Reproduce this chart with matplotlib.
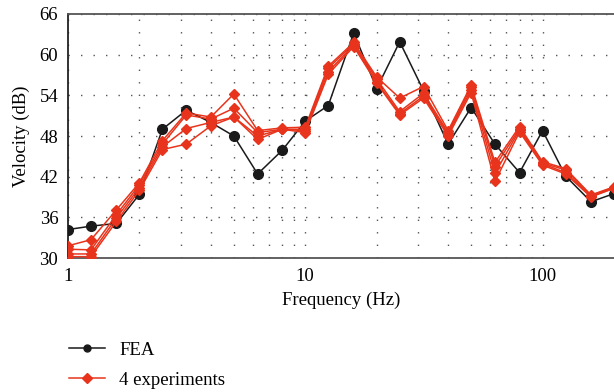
import matplotlib
matplotlib.use("Agg")
import matplotlib.pyplot as plt
from matplotlib.ticker import FixedLocator, NullFormatter, FixedFormatter

freq = [1, 1.25, 1.6, 2, 2.5, 3.15, 4, 5, 6.3, 8, 10, 12.5, 16, 20, 25, 31.5,
        40, 50, 63, 80, 100, 125, 160, 200]

fea = [34.2, 34.7, 35.1, 39.4, 49.0, 51.8, 50.0, 48.0, 42.4, 45.9, 50.2, 52.5,
       63.2, 55.0, 61.9, 54.7, 46.8, 52.2, 46.8, 42.6, 48.8, 42.1, 38.3, 39.5]

exp1 = [31.8, 32.7, 37.1, 41.1, 47.3, 51.4, 50.8, 54.2, 48.8, 49.2, 49.3, 58.3,
        61.8, 56.7, 53.6, 55.3, 48.8, 55.5, 44.1, 49.4, 44.2, 43.2, 39.3, 40.5]
exp2 = [31.3, 31.2, 36.4, 40.8, 46.8, 51.1, 50.5, 52.1, 48.5, 49.0, 49.0, 58.0,
        61.6, 56.4, 51.6, 54.3, 48.5, 55.2, 43.5, 49.1, 44.0, 43.0, 39.2, 40.4]
exp3 = [30.6, 30.6, 35.9, 40.4, 46.4, 49.1, 50.0, 50.8, 48.0, 49.0, 48.8, 57.5,
        61.4, 56.0, 51.3, 53.9, 48.3, 54.8, 42.5, 48.9, 43.9, 42.6, 39.1, 40.3]
exp4 = [30.2, 30.2, 35.4, 40.0, 46.0, 46.8, 49.5, 50.8, 47.5, 49.0, 48.5, 57.1,
        61.2, 55.8, 51.1, 53.6, 48.0, 54.4, 41.3, 48.6, 43.7, 42.4, 39.0, 40.3]
experiments = [exp1, exp2, exp3, exp4]

yticks = [30, 36, 42, 48, 54, 60, 66]
xmajor = [1, 10, 100]
xmajor_labels = ["1", "10", "100"]
xminor = [2, 3, 4, 5, 6, 7, 8, 9, 20, 30, 40, 50, 60, 70, 80, 90]

plt.rcParams['font.family'] = ['Liberation Serif', 'DejaVu Serif']
plt.rcParams['font.size'] = 13.5

red = '#e8341c'
black = '#1a1a1a'

fig = plt.figure(figsize=(6.14, 3.92), dpi=100)
ax = fig.add_axes([0.1107, 0.3418, 0.8893, 0.6225])

ax.set_xscale('log')
ax.set_xlim(1, 200)
ax.set_ylim(30, 66)

ax.xaxis.set_major_locator(FixedLocator(xmajor))
ax.xaxis.set_major_formatter(FixedFormatter(xmajor_labels))
ax.xaxis.set_minor_locator(FixedLocator(xminor))
ax.xaxis.set_minor_formatter(NullFormatter())
ax.set_yticks(yticks)
ax.tick_params(which='both', length=0)
ax.tick_params(axis='y', pad=7)
ax.tick_params(axis='x', pad=7)

gkw = dict(color='#555555', linestyle=(0, (1, 8)), linewidth=1.0)
ax.grid(True, which='major', axis='both', **gkw)
ax.grid(True, which='minor', axis='x', **gkw)
ax.set_axisbelow(True)

for s in ['top', 'bottom', 'left']:
    ax.spines[s].set_color('#555555')
    ax.spines[s].set_linewidth(1.3)
ax.spines['left'].set_color('#222222')
ax.spines['right'].set_visible(False)

ax.plot(freq, fea, color=black, marker='o', markersize=7, linewidth=1.1,
        label='FEA', zorder=3)
for i, e in enumerate(experiments):
    ax.plot(freq, e, color=red, marker='D', markersize=5.5, linewidth=1.1,
            label='4 experiments' if i == 0 else None, zorder=4)

ax.set_xlabel('Frequency (Hz)', labelpad=5)
ax.set_ylabel('Velocity (dB)', labelpad=7)

leg = fig.legend(loc='upper left', bbox_to_anchor=(0.113, 0.129), frameon=False,
                 handlelength=1.9, handletextpad=0.75, labelspacing=0.7,
                 borderaxespad=0.0, borderpad=0.0, fontsize=13.5)
for h in leg.legend_handles:
    h.set_markersize(5)

fig.savefig('out.png', dpi=100)
